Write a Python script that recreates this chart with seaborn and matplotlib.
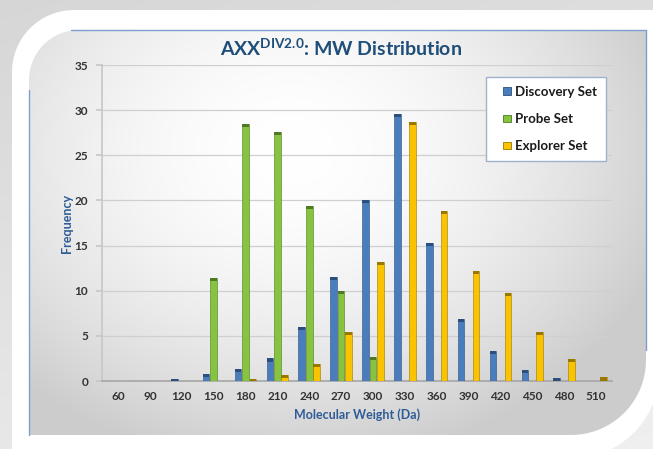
import numpy as np
import pandas as pd
import matplotlib
matplotlib.use("Agg")
import matplotlib.pyplot as plt
import seaborn as sns
from matplotlib.patches import Polygon, Rectangle
from matplotlib.legend_handler import HandlerPatch

# ---------------- data ----------------
mw_bins = ["60", "90", "120", "150", "180", "210", "240", "270",
           "300", "330", "360", "390", "420", "450", "480", "510"]
discovery = [0, 0, 0.25, 0.8, 1.3, 2.5, 6.0, 11.5, 20.1, 29.6, 15.3, 6.9, 3.3, 1.2, 0.3, 0]
probe = [0, 0, 0, 11.4, 28.5, 27.6, 19.4, 10.0, 2.7, 0, 0, 0, 0, 0, 0, 0]
explorer = [0, 0, 0, 0, 0.2, 0.7, 1.9, 5.4, 13.2, 28.7, 18.8, 12.2, 9.75, 5.4, 2.45, 0.4]
series_names = ["Discovery Set", "Probe Set", "Explorer Set"]
y_ticks = [0, 5, 10, 15, 20, 25, 30, 35]

colors = ["#4A7DBB", "#86C43F", "#FAC300"]
caps = ["#2B4E7E", "#4D7A22", "#9A7800"]

df = pd.DataFrame({
    "MW": mw_bins * 3,
    "Set": sum([[n] * len(mw_bins) for n in series_names], []),
    "Frequency": discovery + probe + explorer,
})

# ---------------- figure ----------------
sns.set_theme(style="white")
plt.rcParams["font.family"] = ["Lato", "DejaVu Sans"]
plt.rcParams["mathtext.fontset"] = "custom"
plt.rcParams["mathtext.rm"] = "Lato:bold"
plt.rcParams["mathtext.bf"] = "Lato:bold"
plt.rcParams["mathtext.it"] = "Lato:bold"

W, H = 653, 449
fig = plt.figure(figsize=(W / 100, H / 100), dpi=100)
fig.patch.set_facecolor("#dedede")


def round_rect(x0, y0, x1, y1, r_tl, r_br, n=40):
    pts = [(x0 + r_tl, y0), (x1, y0), (x1, y1 - r_br)]
    t = np.linspace(0, np.pi / 2, n)
    pts += list(zip(x1 - r_br + r_br * np.cos(t), y1 - r_br + r_br * np.sin(t)))
    pts += [(x0, y1), (x0, y0 + r_tl)]
    t = np.linspace(np.pi, 1.5 * np.pi, n)
    pts += list(zip(x0 + r_tl + r_tl * np.cos(t), y0 + r_tl + r_tl * np.sin(t)))
    return np.array(pts)


# background decoration (frame)
bg = fig.add_axes([0, 0, 1, 1], zorder=-10)
bg.set_xlim(0, W)
bg.set_ylim(H, 0)
bg.axis("off")
yy, xx = np.mgrid[0:H, 0:W]
outer = 0.84 + 0.07 * (yy / H) + 0.03 * (xx / W)
bg.imshow(np.dstack([outer] * 3), extent=(0, W, H, 0), aspect="auto", zorder=0)

card = Polygon(round_rect(12, 10, 659, 458, 62, 86), closed=True,
               facecolor="white", edgecolor="none", zorder=1)
bg.add_patch(card)

# panel with radial gradient
px0, py0, px1, py1, r1, r2 = 29, 30, 646, 435, 50, 75
cx, cy = 290, 150
d = np.sqrt(((xx - cx) / 360.0) ** 2 + ((yy - cy) / 290.0) ** 2)
g = np.clip(1.0 - 0.17 * d ** 1.8, 0.80, 1.0)
panel = Polygon(round_rect(px0, py0, px1, py1, r1, r2), closed=True,
                facecolor="none", edgecolor="none", zorder=2)
bg.add_patch(panel)
im = bg.imshow(np.dstack([g, g, g]), extent=(0, W, H, 0), aspect="auto", zorder=2)
im.set_clip_path(panel)
bc = "#7c9fd0"
bg.plot([px0 + r1 - 8, px1], [py0, py0], color=bc, lw=1.0, zorder=3)
bg.plot([px1, px1], [py0, py1 - r2 - 10], color=bc, lw=1.0, zorder=3)
bg.plot([px0, px0], [py0 + r1 + 10, py1], color=bc, lw=1.0, zorder=3)

# ---------------- chart ----------------
ax = fig.add_axes([102 / W, 1 - 381 / H, (612 - 102) / W, (381 - 65) / H])
ax.set_facecolor("none")
sns.barplot(data=df, x="MW", y="Frequency", hue="Set", order=mw_bins,
            hue_order=series_names, palette=colors, width=0.7, gap=0.1,
            saturation=1, ax=ax, legend=True, zorder=3)

# darker caps/edges on bars, derived from the drawn patches
for i, container in enumerate(ax.containers):
    for p in container.patches:
        h = p.get_height()
        p.set_edgecolor(caps[i])
        p.set_linewidth(0.4)
        if h > 0:
            ch = min(0.35, h)
            ax.add_patch(Rectangle((p.get_x(), p.get_y() + h - ch), p.get_width(), ch,
                                   facecolor=caps[i], edgecolor="none", zorder=4))

ax.set_ylim(0, 35)
ax.set_xlim(-0.5, len(mw_bins) - 0.5)
ax.set_yticks(y_ticks)
ax.yaxis.grid(True, color="#cfcfcf", lw=0.9)
ax.set_axisbelow(True)
for s in ["top", "right"]:
    ax.spines[s].set_visible(False)
ax.spines["left"].set_color("#c8c8c8")
ax.spines["bottom"].set_color("#a8a8a8")

ax.set_xticks(range(len(mw_bins)))
ax.set_xticks(np.arange(-0.5, len(mw_bins), 1.0), minor=True)
ax.tick_params(axis="x", which="major", length=0, pad=7, labelsize=8.5, labelcolor="#333333")
ax.tick_params(axis="x", which="minor", length=4, color="#a8a8a8", direction="out")
ax.tick_params(axis="y", length=4, color="#c8c8c8", direction="out", labelsize=8.5,
               labelcolor="#333333", pad=6)
ax.tick_params(bottom=True, left=True)
for lab in ax.get_xticklabels() + ax.get_yticklabels():
    lab.set_fontweight("bold")

ax.set_xlabel("Molecular Weight (Da)", color="#2f5c97", fontsize=9, fontweight="bold", labelpad=5)
ax.set_ylabel("Frequency", color="#2f5c97", fontsize=9, fontweight="bold", labelpad=1)


def square_handle(legend, orig_handle, xdescent, ydescent, width, height, fontsize):
    s = 5.2
    return Rectangle((-xdescent + width - s, -ydescent + (height - s) / 2), s, s)


leg = ax.legend(loc="upper right", bbox_to_anchor=(0.988, 0.962), borderaxespad=0,
                frameon=True, fancybox=False, shadow=False, handlelength=1.2,
                handleheight=0.7, handletextpad=0.35, labelspacing=1.15,
                borderpad=0.65, prop={"weight": "bold", "size": 9.5},
                handler_map={Rectangle: HandlerPatch(patch_func=square_handle)})
leg.get_frame().set_edgecolor("#9fb2cc")
leg.get_frame().set_linewidth(1.0)
leg.get_frame().set_facecolor("white")
leg.get_frame().set_alpha(1)
for h, c in zip(leg.legend_handles, caps):
    h.set_edgecolor(c)
    h.set_linewidth(0.6)
for t in leg.get_texts():
    t.set_color("#1a1a1a")

fig.text(341 / W, 1 - 48 / H,
         r"$\mathbf{AXX^{DIV2.0}}$: MW Distribution",
         ha="center", va="center", fontsize=14, fontweight="bold", color="#1f4e79")

fig.savefig("out.png", dpi=100, facecolor=fig.get_facecolor())
